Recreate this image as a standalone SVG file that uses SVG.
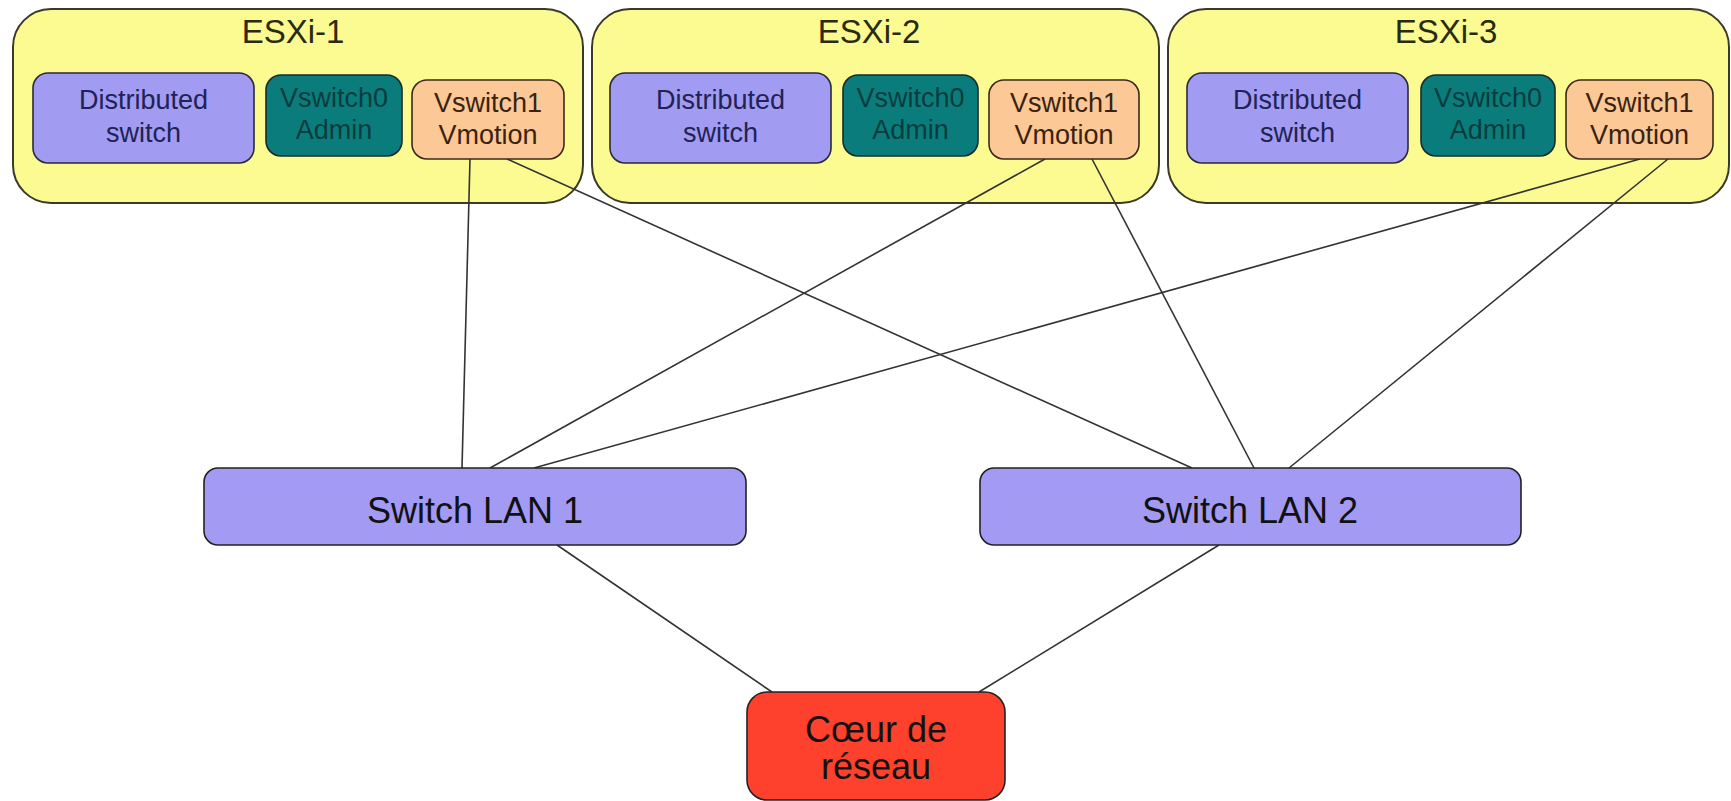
<svg xmlns="http://www.w3.org/2000/svg" width="1731" height="801" viewBox="0 0 1731 801">
<style>
text{font-family:"Liberation Sans",Arial,sans-serif;text-anchor:middle}
.host{fill:#fbfb92;stroke:#3a3a2a;stroke-width:2}
.dist{fill:#a19bf2;stroke:#2a2a3a;stroke-width:1.6}
.adm{fill:#0b7c7c;stroke:#1a2a2a;stroke-width:1.6}
.vm{fill:#fcc896;stroke:#3a2a1a;stroke-width:1.6}
.lan{fill:#a39af3;stroke:#222;stroke-width:1.6}
.core{fill:#fd412c;stroke:#222;stroke-width:1.6}
.t-title{font-size:33px;fill:#2a2a10}
.t-in{font-size:27px}
.t-dist{fill:#222255}
.t-adm{fill:#083c3c}
.t-vm{fill:#3a2210}
.t-big{font-size:36px;fill:#111}
.conn line{stroke:#333;stroke-width:1.6}
.sh{fill:#000;opacity:0.18}
</style>
<rect width="1731" height="801" fill="#ffffff"/>

<g id="esxi1">
<rect class="host" x="13" y="9" width="570" height="194" rx="38"/>
<text class="t-title" x="293" y="43">ESXi-1</text>
</g>
<g id="esxi2">
<rect class="host" x="592" y="9" width="567" height="194" rx="38"/>
<text class="t-title" x="869" y="43">ESXi-2</text>
</g>
<g id="esxi3">
<rect class="host" x="1168" y="9" width="561" height="194" rx="38"/>
<text class="t-title" x="1446" y="43">ESXi-3</text>
</g>

<g id="connectors" class="conn">
<line x1="470" y1="159" x2="462" y2="468"/>
<line x1="507" y1="159" x2="1192" y2="468"/>
<line x1="1045" y1="159" x2="490" y2="468"/>
<line x1="1092" y1="159" x2="1254" y2="468"/>
<line x1="1640" y1="159" x2="534" y2="468"/>
<line x1="1668" y1="159" x2="1289" y2="468"/>
<line x1="557" y1="545" x2="772" y2="692"/>
<line x1="1219" y1="545" x2="979" y2="692"/>
</g>

<g id="esxi1-dist">
<rect class="dist" x="33" y="73" width="221" height="90" rx="15"/>
<text class="t-in t-dist" x="143.5" y="109">Distributed</text>
<text class="t-in t-dist" x="143.5" y="142">switch</text>
</g>
<g id="esxi1-vs0">
<rect class="adm" x="266" y="75" width="136" height="81" rx="15"/>
<text class="t-in t-adm" x="334" y="107">Vswitch0</text>
<text class="t-in t-adm" x="334" y="139">Admin</text>
</g>
<g id="esxi1-vs1">
<rect class="vm" x="412" y="80" width="152" height="79" rx="15"/>
<text class="t-in t-vm" x="488" y="112">Vswitch1</text>
<text class="t-in t-vm" x="488" y="144">Vmotion</text>
</g>

<g id="esxi2-dist">
<rect class="dist" x="610" y="73" width="221" height="90" rx="15"/>
<text class="t-in t-dist" x="720.5" y="109">Distributed</text>
<text class="t-in t-dist" x="720.5" y="142">switch</text>
</g>
<g id="esxi2-vs0">
<rect class="adm" x="843" y="75" width="135" height="81" rx="15"/>
<text class="t-in t-adm" x="910.5" y="107">Vswitch0</text>
<text class="t-in t-adm" x="910.5" y="139">Admin</text>
</g>
<g id="esxi2-vs1">
<rect class="vm" x="989" y="80" width="150" height="79" rx="15"/>
<text class="t-in t-vm" x="1064" y="112">Vswitch1</text>
<text class="t-in t-vm" x="1064" y="144">Vmotion</text>
</g>

<g id="esxi3-dist">
<rect class="dist" x="1187" y="73" width="221" height="90" rx="15"/>
<text class="t-in t-dist" x="1297.5" y="109">Distributed</text>
<text class="t-in t-dist" x="1297.5" y="142">switch</text>
</g>
<g id="esxi3-vs0">
<rect class="adm" x="1421" y="75" width="134" height="81" rx="15"/>
<text class="t-in t-adm" x="1488" y="107">Vswitch0</text>
<text class="t-in t-adm" x="1488" y="139">Admin</text>
</g>
<g id="esxi3-vs1">
<rect class="vm" x="1566" y="80" width="147" height="79" rx="15"/>
<text class="t-in t-vm" x="1639.5" y="112">Vswitch1</text>
<text class="t-in t-vm" x="1639.5" y="144">Vmotion</text>
</g>

<g id="lan1">
<rect class="lan" x="204" y="468" width="542" height="77" rx="14"/>
<text class="t-big" x="475" y="523">Switch LAN 1</text>
</g>
<g id="lan2">
<rect class="lan" x="980" y="468" width="541" height="77" rx="14"/>
<text class="t-big" x="1250" y="523">Switch LAN 2</text>
</g>
<g id="core">
<rect class="core" x="747" y="692" width="258" height="108" rx="20"/>
<text class="t-big" x="876" y="742">Cœur de</text>
<text class="t-big" x="876" y="779">réseau</text>
</g>
</svg>
